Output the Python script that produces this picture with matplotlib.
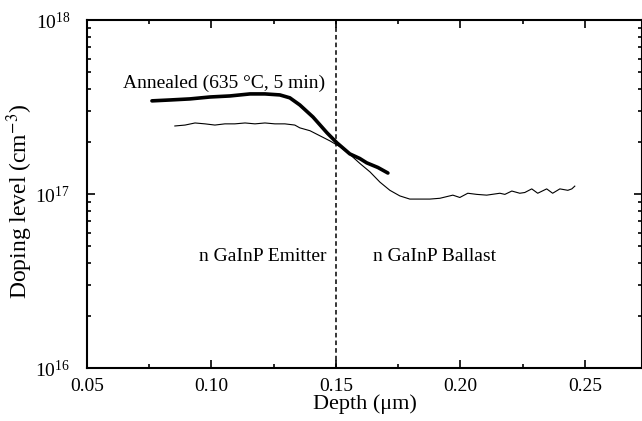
import math
import matplotlib
matplotlib.use("Agg")
import matplotlib.pyplot as plt
from matplotlib.ticker import LogLocator, MultipleLocator, FixedLocator, FuncFormatter

plt.rcParams['font.family'] = ['Liberation Serif', 'DejaVu Serif']
plt.rcParams['mathtext.fontset'] = 'stix'

# as-grown profile (thin line), doping in 1e17 cm^-3
depth_grown = [0.0853, 0.0894, 0.0934, 0.0974, 0.1014, 0.1054, 0.1094, 0.1135,
               0.1175, 0.1215, 0.1255, 0.1295, 0.1335, 0.1355, 0.1396, 0.1436,
               0.1476, 0.1516, 0.1556, 0.1596, 0.1637, 0.1677, 0.1717, 0.1757,
               0.1797, 0.1837, 0.1878, 0.1918, 0.1970, 0.1998, 0.2030, 0.2066,
               0.2106, 0.2159, 0.2179, 0.2207, 0.2239, 0.2259, 0.2287, 0.2311,
               0.2347, 0.2371, 0.2400, 0.2432, 0.2448, 0.2460]
doping_grown = [2.46, 2.49, 2.56, 2.53, 2.49, 2.53, 2.53, 2.56,
                2.53, 2.56, 2.53, 2.53, 2.49, 2.40, 2.31, 2.16,
                2.02, 1.87, 1.69, 1.50, 1.34, 1.17, 1.05, 0.975,
                0.935, 0.935, 0.935, 0.945, 0.985, 0.955, 1.01, 0.995,
                0.985, 1.01, 0.995, 1.04, 1.01, 1.02, 1.07, 1.01,
                1.07, 1.01, 1.07, 1.05, 1.07, 1.11]

# annealed profile (thick line), doping in 1e17 cm^-3
depth_ann = [0.0761, 0.0833, 0.0914, 0.0994, 0.1074, 0.1155, 0.1215, 0.1275,
             0.1315, 0.1355, 0.1408, 0.1464, 0.1504, 0.1556, 0.1596, 0.1624,
             0.1669, 0.1709]
doping_ann = [3.43, 3.47, 3.52, 3.61, 3.66, 3.76, 3.76, 3.71,
              3.57, 3.25, 2.77, 2.25, 1.97, 1.70, 1.60, 1.51,
              1.42, 1.32]

interface = 0.15
xticks = [0.05, 0.10, 0.15, 0.20, 0.25]

fig = plt.figure(figsize=(6.42, 4.21), dpi=100)
ax = fig.add_axes([87/642, 53/421, 1 - 87/642, 348/421])

ax.plot(depth_grown, [v * 1e17 for v in doping_grown], color='black', lw=0.8)
ax.plot(depth_ann, [v * 1e17 for v in doping_ann], color='black', lw=2.6,
        solid_capstyle='round')
ax.axvline(interface, color='black', lw=1.1, ls=(0, (3, 2)))

ax.set_yscale('log')
ax.set_xlim(0.05, 0.273)
ax.set_ylim(1e16, 1e18)

ax.xaxis.set_major_locator(FixedLocator(xticks))
ax.xaxis.set_minor_locator(MultipleLocator(0.025))
ax.xaxis.set_major_formatter(FuncFormatter(lambda v, p: '%.2f' % v))
ax.yaxis.set_major_locator(LogLocator(base=10, numticks=5))
ax.yaxis.set_minor_locator(LogLocator(base=10, subs=range(2, 10), numticks=20))
ax.yaxis.set_major_formatter(FuncFormatter(
    lambda v, p: r'$\mathregular{10^{%d}}$' % round(math.log10(v))))

ax.tick_params(which='both', direction='in', top=True, right=True, labelsize=14,
               width=1.2)
ax.tick_params(which='major', length=6)
ax.tick_params(which='minor', length=3)
ax.tick_params(axis='x', pad=7)
ax.tick_params(axis='y', pad=12)
for s in ax.spines.values():
    s.set_linewidth(1.5)

ax.set_xlabel('Depth (\u03bcm)', fontsize=16, labelpad=0)
ax.set_ylabel('Doping level (cm$^{-3}$)', fontsize=17, labelpad=0)
ax.yaxis.set_label_coords(-0.093, 0.48)

ax.text(0.0645, 4.35e17, 'Annealed (635 \u00b0C, 5 min)', fontsize=14,
        va='center', ha='left')
ax.text(0.1464, 4.35e16, 'n GaInP Emitter', fontsize=14, va='center', ha='right')
ax.text(0.1649, 4.35e16, 'n GaInP Ballast', fontsize=14, va='center', ha='left')

fig.savefig('out.png', dpi=100)
